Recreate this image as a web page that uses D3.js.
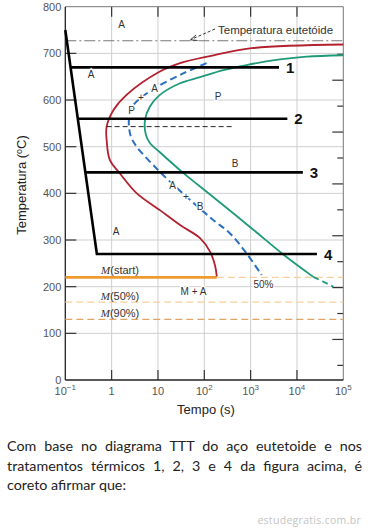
<!DOCTYPE html>
<html lang="pt">
<head>
<meta charset="UTF-8" />
<title>Diagrama TTT</title>
<script src="https://d3js.org/d3.v7.min.js"></script>
<style>
  body { margin: 0; background: #fff; width: 368px; height: 529px; overflow: hidden; position: relative; }
  svg { position: absolute; left: 0; top: 0; }
  #texto {
    position: absolute; left: 7px; top: 436px; width: 355px;
    font-family: Lato, "Open Sans", sans-serif; font-size: 14.3px; line-height: 19.5px;
    text-align: justify; color: #222;
  }
  #marca {
    position: absolute; right: 7px; top: 513px;
    font-family: "Open Sans", sans-serif; font-size: 10.5px; color: #c4c4c4; letter-spacing: 0.3px;
  }
</style>
</head>
<body>
<svg id="chart" width="368" height="420"></svg>
<div id="texto">Com base no diagrama TTT do aço eutetoide e nos tratamentos térmicos 1, 2, 3 e 4 da figura acima, é coreto afirmar que:</div>
<div id="marca">estudegratis.com.br</div>
<script>
// eixos
const tempTicks = [0, 100, 200, 300, 400, 500, 600, 700, 800];
const timeTicks = [0.1, 1, 10, 100, 1000, 10000, 100000];
const fahrTicks = [100, 200, 300, 400, 500, 600, 700, 800, 900, 1000, 1100, 1200, 1300];

// curva de inicio (vermelha)
const startTime = [100000, 1050, 132, 30, 11, 2.1, 1.09, 0.78, 0.78, 0.92, 1.5, 3.5, 11, 30, 81, 133, 170, 186];
const startTemp = [719, 711, 694, 679, 661, 611, 578, 543, 514, 471, 443, 400, 364, 332, 304, 275, 246, 222];
// curva 50% (azul tracejada)
const halfTime = [112, 35, 9.4, 4.45, 2.94, 2.4, 2.37, 2.62, 3.47, 11, 40, 156, 359, 822, 1730];
const halfTemp = [679, 657, 628, 606, 589, 564, 543, 521, 500, 446, 394, 343, 314, 271, 225];
// curva de fim (verde)
const endTime = [100000, 16200, 4300, 822, 257, 81, 30, 11, 6.7, 5.25, 5.5, 6.7, 11, 33, 170, 968, 5070, 22500, 61000];
const endTemp = [696, 693, 687, 675, 664, 649, 636, 611, 586, 557, 525, 508, 488, 446, 389, 328, 269, 221, 200];

// tratamentos termicos
const quenchTime = [0.1, 0.48];
const quenchTemp = [750, 270];
const pathNames = ["1", "2", "3", "4"];
const pathTemp = [670, 560, 445, 270];
const pathEnd = [4100, 6200, 13400, 27000];

const eutectoid = 727;
const mStart = 220, m50 = 167, m90 = 130;
const redEnd = 186;

const svg = d3.select("#chart");
const x = d3.scaleLog().domain([0.1, 1e5]).range([65.3, 343.3]);
const y = d3.scaleLinear().domain([0, 800]).range([380, 6.7]);
const x0 = x.range()[0], x1 = x.range()[1], yb = y.range()[0], yt = y.range()[1];

// grade
const grid = svg.append("g").attr("stroke", "#cfcfcf").attr("stroke-width", 1);
grid.selectAll(".gx").data(timeTicks.slice(1, -1)).enter().append("line")
  .attr("x1", d => x(d)).attr("x2", d => x(d)).attr("y1", yt).attr("y2", yb);
grid.selectAll(".gy").data(tempTicks.slice(1, -1)).enter().append("line")
  .attr("x1", x0).attr("x2", x1).attr("y1", d => y(d)).attr("y2", d => y(d));

// ticks internos
const tk = svg.append("g").attr("stroke", "#333").attr("stroke-width", 1.2);
tk.selectAll(".tl").data(tempTicks.slice(1, -1)).enter().append("line")
  .attr("x1", x0).attr("x2", x0 + 11).attr("y1", d => y(d)).attr("y2", d => y(d));
tk.selectAll(".tb").data(timeTicks.slice(1, -1)).enter().append("line")
  .attr("x1", d => x(d)).attr("x2", d => x(d)).attr("y1", yb).attr("y2", yb - 10);
tk.selectAll(".tt").data(timeTicks.slice(1, -1)).enter().append("line")
  .attr("x1", d => x(d)).attr("x2", d => x(d)).attr("y1", yt).attr("y2", yt + 10);
const fy = f => y((f - 32) / 1.8) + 3;
tk.selectAll(".tr").data(fahrTicks).enter().append("line")
  .attr("x1", x1).attr("x2", d => x1 - (d % 200 === 0 ? 11 : 6))
  .attr("y1", d => fy(d)).attr("y2", d => fy(d));

// moldura
svg.append("line").attr("x1", x0).attr("x2", x1).attr("y1", yt).attr("y2", yt).attr("stroke", "#777");
svg.append("line").attr("x1", x1).attr("x2", x1).attr("y1", yt).attr("y2", yb).attr("stroke", "#777");
svg.append("line").attr("x1", x0).attr("x2", x1).attr("y1", yb).attr("y2", yb).attr("stroke", "#222").attr("stroke-width", 1.3);
svg.append("line").attr("x1", x0).attr("x2", x0).attr("y1", yt).attr("y2", yb).attr("stroke", "#222").attr("stroke-width", 1.3);

// rotulos dos eixos
svg.selectAll(".ly").data(tempTicks).enter().append("text")
  .attr("x", x0 - 4).attr("y", d => y(d) + 4).attr("text-anchor", "end")
  .attr("font-family", "Liberation Sans, Arial, sans-serif").attr("font-size", 11).attr("fill", "#555")
  .text(d => d);
const lx = svg.selectAll(".lx").data(timeTicks).enter().append("text")
  .attr("x", d => x(d)).attr("y", yb + 15).attr("text-anchor", "middle")
  .attr("font-family", "Liberation Sans, Arial, sans-serif").attr("font-size", 11).attr("fill", "#555");
lx.each(function(d) {
  const e = Math.round(Math.log10(d));
  const t = d3.select(this);
  if (e === 0) t.text("1");
  else if (e === 1) t.text("10");
  else {
    t.append("tspan").text("10");
    t.append("tspan").attr("dy", -5).attr("font-size", 8).text(e === -1 ? "\u22121" : e);
  }
});

svg.append("text").attr("x", 206).attr("y", 414).attr("text-anchor", "middle")
  .attr("font-family", "Liberation Sans, Arial, sans-serif").attr("font-size", 13).attr("fill", "#222")
  .text("Tempo (s)");
const yl = svg.append("text").attr("transform", "translate(26,185) rotate(-90)").attr("text-anchor", "middle")
  .attr("font-family", "Liberation Sans, Arial, sans-serif").attr("font-size", 13).attr("fill", "#222");
yl.append("tspan").text("Temperatura (");
yl.append("tspan").attr("dy", -4).attr("font-size", 9).text("o");
yl.append("tspan").attr("dy", 4).text("C)");

// temperatura eutetoide
svg.append("line").attr("x1", x0).attr("x2", x1).attr("y1", y(eutectoid)).attr("y2", y(eutectoid))
  .attr("stroke", "#777").attr("stroke-dasharray", "11,3,2,3");
svg.append("text").attr("x", 218).attr("y", 34)
  .attr("font-family", "Liberation Sans, Arial, sans-serif").attr("font-size", 11.5).attr("fill", "#333")
  .text("Temperatura eutetóide");
svg.append("line").attr("x1", 215).attr("y1", 29).attr("x2", 191).attr("y2", 39.5)
  .attr("stroke", "#333").attr("stroke-dasharray", "3,2");
svg.append("path").attr("d", "M196,35 L190.5,39.8 L197.5,40.5").attr("fill", "none").attr("stroke", "#333");

// linhas martensita
const orange = "#ee9a2e";
svg.append("line").attr("x1", x(redEnd)).attr("x2", x1).attr("y1", y(mStart)).attr("y2", y(mStart))
  .attr("stroke", "#f7cf9a").attr("stroke-width", 1.3).attr("stroke-dasharray", "7,4");
svg.append("line").attr("x1", x0).attr("x2", x1).attr("y1", y(m50)).attr("y2", y(m50))
  .attr("stroke", "#f5cf9c").attr("stroke-width", 1.3).attr("stroke-dasharray", "7,4");
svg.append("line").attr("x1", x0).attr("x2", x1).attr("y1", y(m90)).attr("y2", y(m90))
  .attr("stroke", "#e0a566").attr("stroke-width", 1.3).attr("stroke-dasharray", "7,4");
svg.append("line").attr("x1", x0).attr("x2", x(redEnd)).attr("y1", y(mStart)).attr("y2", y(mStart))
  .attr("stroke", orange).attr("stroke-width", 2.6);

// curvas TTT
const line = d3.line().x(d => x(d[0])).y(d => y(d[1])).curve(d3.curveCatmullRom.alpha(0.5));
const zip = (a, b) => a.map((v, i) => [v, b[i]]);
const endPts = zip(endTime, endTemp);
svg.append("path").attr("d", line(endPts.slice(0, -1))).attr("fill", "none")
  .attr("stroke", "#1e9a78").attr("stroke-width", 1.8);
svg.append("path").attr("d", line(endPts.slice(-2))).attr("fill", "none")
  .attr("stroke", "#1e9a78").attr("stroke-width", 1.8).attr("stroke-dasharray", "6,4");
svg.append("path").attr("d", line(zip(halfTime, halfTemp))).attr("fill", "none")
  .attr("stroke", "#2b6fc0").attr("stroke-width", 2).attr("stroke-dasharray", "7,4");
svg.append("path").attr("d", line(zip(startTime, startTemp))).attr("fill", "none")
  .attr("stroke", "#b3202e").attr("stroke-width", 1.8);

// tratamentos
const qa = [x(quenchTime[0]), y(quenchTemp[0])], qb = [x(quenchTime[1]), y(quenchTemp[1])];
const quenchX = T => qa[0] + (y(T) - qa[1]) / (qb[1] - qa[1]) * (qb[0] - qa[0]);
svg.append("path")
  .attr("d", `M${qa[0]},${qa[1]} L${qb[0]},${qb[1]} H${x(pathEnd[3])}`)
  .attr("fill", "none").attr("stroke", "#000").attr("stroke-width", 2.6);
svg.selectAll(".trat").data(pathTemp.slice(0, 3)).enter().append("line")
  .attr("x1", d => quenchX(d)).attr("x2", (d, i) => x(pathEnd[i]))
  .attr("y1", d => y(d)).attr("y2", d => y(d))
  .attr("stroke", "#000").attr("stroke-width", 2.6);
svg.selectAll(".num").data(pathNames).enter().append("text")
  .attr("x", (d, i) => x(pathEnd[i]) + 7).attr("y", (d, i) => y(pathTemp[i]) + 5.5)
  .attr("font-family", "Liberation Sans, Arial, sans-serif").attr("font-weight", "bold")
  .attr("font-size", 15).attr("fill", "#111").text(d => d);

// tracejado preto a 540
svg.append("line").attr("x1", x(0.78)).attr("x2", x(400)).attr("y1", y(543)).attr("y2", y(543))
  .attr("stroke", "#222").attr("stroke-dasharray", "5,3");

// letras
const letters = [
  ["A", 121.7, 24], ["A", 91, 74.5], ["A", 154.5, 88.5], ["+", 141, 97.5], ["P", 131.5, 110],
  ["P", 218, 96.5], ["B", 235, 163.5], ["A", 172.5, 185], ["+", 186, 196], ["B", 200, 206],
  ["A", 116, 231], ["M + A", 193.5, 291], ["50%", 263.5, 284]
];
svg.selectAll(".let").data(letters).enter().append("text")
  .attr("x", d => d[1]).attr("y", d => d[2] + 3.5).attr("text-anchor", "middle")
  .attr("font-family", "Liberation Sans, Arial, sans-serif").attr("font-size", 10).attr("fill", "#333")
  .attr("stroke", "#fff").attr("stroke-width", 2.5).attr("paint-order", "stroke")
  .text(d => d[0]);

const mLabels = [["(start)", 120, 270], ["(50%)", 120, 295.5], ["(90%)", 120, 313]];
mLabels.forEach(m => {
  const t = svg.append("text").attr("x", m[1]).attr("y", m[2] + 4).attr("text-anchor", "middle")
    .attr("font-size", 11).attr("fill", "#333");
  t.append("tspan").attr("font-family", "Liberation Serif, serif").attr("font-style", "italic").text("M");
  t.append("tspan").attr("font-family", "Liberation Sans, Arial, sans-serif").text(m[0]);
});
</script>
</body>
</html>
